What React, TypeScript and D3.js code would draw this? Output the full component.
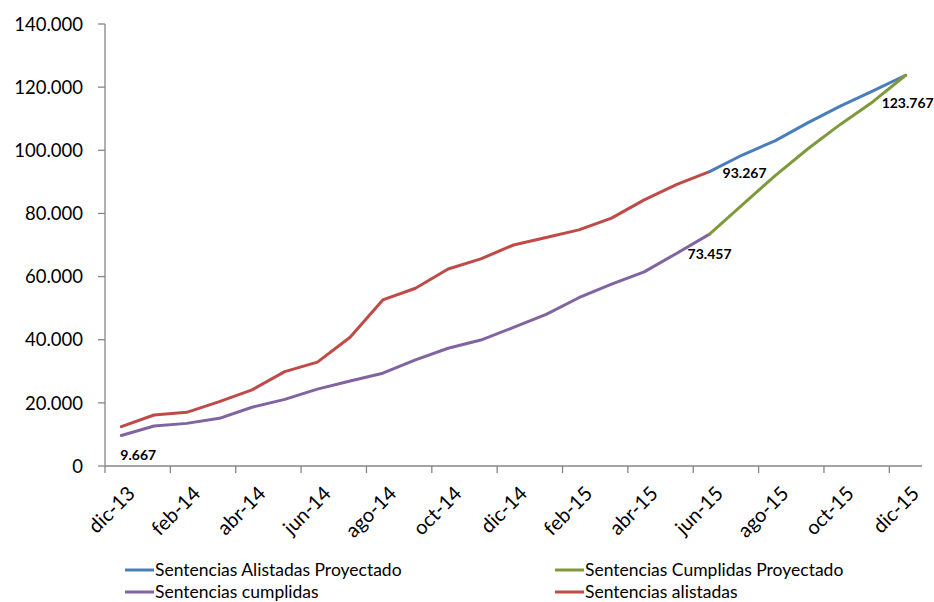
import React from "react";
import * as d3 from "d3";

// Month categories, Dec 2013 through Dec 2015
const months: string[] = [
  "dic-13", "ene-14", "feb-14", "mar-14", "abr-14", "may-14", "jun-14", "jul-14",
  "ago-14", "sep-14", "oct-14", "nov-14", "dic-14", "ene-15", "feb-15", "mar-15",
  "abr-15", "may-15", "jun-15", "jul-15", "ago-15", "sep-15", "oct-15", "nov-15", "dic-15",
];

// Observed series (dic-13 .. jun-15)
const alistadas: number[] = [
  12450, 16150, 17000, 20400, 24100, 29900, 32900, 40800, 52600, 56300,
  62400, 65600, 70000, 72400, 74800, 78500, 84300, 89200, 93267,
];
const cumplidas: number[] = [
  9667, 12670, 13500, 15100, 18600, 21100, 24350, 26900, 29400, 33600,
  37300, 39900, 43900, 48000, 53300, 57600, 61500, 67400, 73457,
];

// Projections (jun-15 .. dic-15)
const alistadasProy: number[] = [93267, 98500, 103000, 108700, 114000, 118800, 123767];
const cumplidasProy: number[] = [73457, 82700, 91900, 100400, 108200, 115400, 123767];
const projStart = 18;

const yTicks: number[] = [0, 20000, 40000, 60000, 80000, 100000, 120000, 140000];

const series = [
  { name: "Sentencias Alistadas Proyectado", color: "#4A7EBB", start: projStart, values: alistadasProy },
  { name: "Sentencias Cumplidas Proyectado", color: "#7E9A3C", start: projStart, values: cumplidasProy },
  { name: "Sentencias cumplidas", color: "#8064A2", start: 0, values: cumplidas },
  { name: "Sentencias alistadas", color: "#BE4B48", start: 0, values: alistadas },
];

const FONT = "Lato, 'Open Sans', sans-serif";
const fmt = (v: number) => (v === 0 ? "0" : d3.format(",")(v).replace(/,/g, "."));

export default function App() {
  const W = 934, H = 602;
  const left = 105, right = 922, top = 24, bottom = 466;

  const x = d3.scaleBand<string>().domain(months).range([left, right]).paddingInner(0).paddingOuter(0);
  const cx = (i: number) => (x(months[i]) as number) + x.bandwidth() / 2;
  const y = d3.scaleLinear().domain([0, 140000]).range([bottom, top]);

  const line = d3.line<[number, number]>().x((d) => d[0]).y((d) => d[1]);

  const drawOrder = [2, 3, 0, 1];

  const labelIdx = months.map((_, i) => i).filter((i) => i % 2 === 0);
  const tickIdx = months.map((_, i) => i).filter((i) => i % 2 === 0);

  return (
    <svg width={W} height={H} style={{ position: "absolute", left: 0, top: 0, background: "#fff" }} fontFamily={FONT}>
      <rect x={0} y={0} width={W} height={H} fill="#fff" />
      {/* y axis */}
      <line x1={left} x2={left} y1={top} y2={bottom} stroke="#868686" strokeWidth={1.3} />
      {yTicks.map((t) => (
        <g key={t}>
          <line x1={left - 7} x2={left} y1={y(t)} y2={y(t)} stroke="#868686" strokeWidth={1.3} />
          <text x={83} y={y(t)} dy="0.36em" textAnchor="end" fontSize={18.5} fill="#000">
            {fmt(t)}
          </text>
        </g>
      ))}
      {/* x axis */}
      <line x1={left} x2={right} y1={bottom} y2={bottom} stroke="#868686" strokeWidth={1.3} />
      {tickIdx.map((i) => (
        <line key={i} x1={x(months[i]) as number} x2={x(months[i]) as number} y1={bottom} y2={bottom + 7} stroke="#868686" strokeWidth={1.3} />
      ))}
      {labelIdx.map((i) => (
        <text
          key={i}
          transform={`translate(${cx(i) + 5},${bottom + 19}) rotate(-45)`}
          textAnchor="end"
          dy="0.7em"
          fontSize={20}
          fill="#000"
        >
          {months[i]}
        </text>
      ))}
      {/* series */}
      {drawOrder.map((k) => {
        const s = series[k];
        const pts: [number, number][] = s.values.map((v, j) => [cx(s.start + j), y(v)]);
        return (
          <path key={s.name} d={line(pts) as string} fill="none" stroke={s.color} strokeWidth={3} strokeLinejoin="round" strokeLinecap="round" />
        );
      })}
      {/* data labels */}
      <g fontSize={14} fontWeight="bold" fill="#000">
        <text x={cx(0) - 1} y={y(cumplidas[0]) + 25}>{fmt(cumplidas[0])}</text>
        <text x={cx(projStart)} y={y(cumplidas[projStart]) + 25} textAnchor="middle">{fmt(cumplidas[projStart])}</text>
        <text x={cx(projStart) + 13} y={y(alistadas[projStart]) + 6}>{fmt(alistadas[projStart])}</text>
        <text x={cx(24) + 2} y={y(alistadasProy[6]) + 33} textAnchor="middle">{fmt(alistadasProy[6])}</text>
      </g>
      {/* legend */}
      {series.map((s, k) => {
        const lx = k % 2 === 0 ? 125 : 555;
        const ly = k < 2 ? 570 : 592;
        return (
          <g key={s.name}>
            <line x1={lx} x2={lx + 29} y1={ly} y2={ly} stroke={s.color} strokeWidth={3} />
            <text x={lx + 30} y={ly} dy="0.35em" fontSize={17.5} fill="#000">{s.name}</text>
          </g>
        );
      })}
    </svg>
  );
}
